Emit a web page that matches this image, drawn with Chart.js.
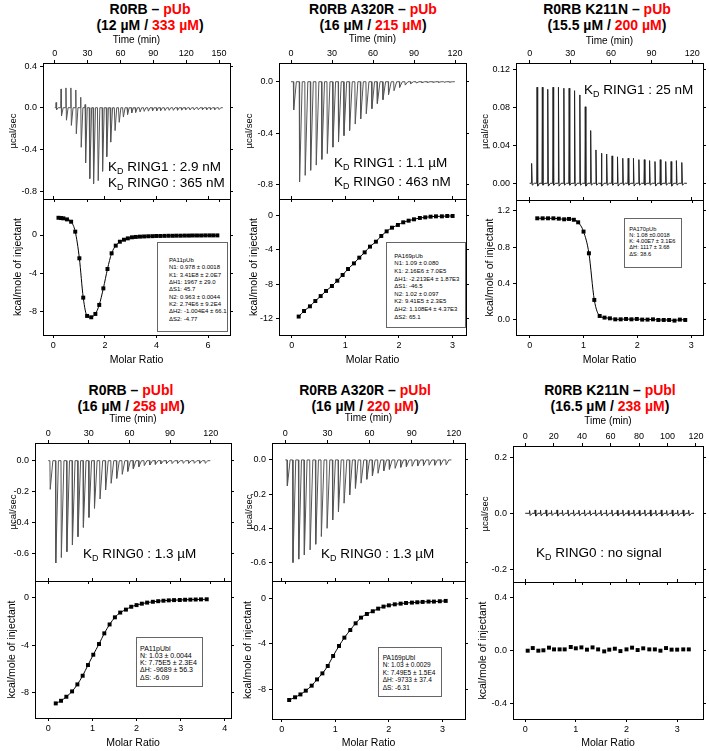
<!DOCTYPE html>
<html>
<head>
<meta charset="utf-8">
<script src="https://cdn.jsdelivr.net/npm/chart.js@4.4.1/dist/chart.umd.min.js"></script>
<style>
  html, body { margin: 0; padding: 0; background: #fff; }
  body { width: 709px; height: 751px; position: relative; overflow: hidden; font-family: "Liberation Sans", Arial, sans-serif; color: #000; }
  canvas { position: absolute; }
  .title { position: absolute; width: 236px; text-align: center; font-weight: bold; font-size: 14px; line-height: 16px; white-space: nowrap; }
  .red { color: #ff0000; }
  .kd { position: absolute; font-size: 13.5px; line-height: 16px; white-space: nowrap; }
  .kd sub { font-size: 9px; vertical-align: -3px; line-height: 0; }
  .fit { position: absolute; box-sizing: border-box; border: 1px solid #666; background: #fff; white-space: pre; }
</style>
</head>
<body>

<div class="title" style="left:32px;top:1px">R0RB – <span class="red">pUb</span><br>(12 µM / <span class="red">333 µM</span>)</div>
<div class="title" style="left:255px;top:1px">R0RB A320R – <span class="red">pUb</span><br>(16 µM / <span class="red">215 µM</span>)</div>
<div class="title" style="left:489px;top:1px">R0RB K211N – <span class="red">pUb</span><br>(15.5 µM / <span class="red">200 µM</span>)</div>
<div class="title" style="left:13px;top:382px">R0RB – <span class="red">pUbl</span><br>(16 µM / <span class="red">258 µM</span>)</div>
<div class="title" style="left:247px;top:382px">R0RB A320R – <span class="red">pUbl</span><br>(16 µM / <span class="red">220 µM</span>)</div>
<div class="title" style="left:492px;top:382px">R0RB K211N – <span class="red">pUbl</span><br>(16.5 µM / <span class="red">238 µM</span>)</div>

<div id="plots"></div>

<div class="kd" style="left:108px;top:158.7px">K<sub>D</sub> RING1 : 2.9 nM</div>
<div class="kd" style="left:108px;top:175.3px">K<sub>D</sub> RING0 : 365 nM</div>
<div class="kd" style="left:334px;top:155.3px">K<sub>D</sub> RING1 : 1.1 µM</div>
<div class="kd" style="left:334px;top:173.7px">K<sub>D</sub> RING0 : 463 nM</div>
<div class="kd" style="left:584px;top:82px">K<sub>D</sub> RING1 : 25 nM</div>
<div class="kd" style="left:83px;top:546px">K<sub>D</sub> RING0 : 1.3 µM</div>
<div class="kd" style="left:321px;top:546px">K<sub>D</sub> RING0 : 1.3 µM</div>
<div class="kd" style="left:536px;top:544.7px">K<sub>D</sub> RING0 : no signal</div>

<div class="fit" style="left:157px;top:242px;width:71px;height:90px;padding:14px 0 0 11px;font-size:6px;line-height:7.33px">PA11pUb
N1: 0.978 ± 0.0018
K1: 3.41E8 ± 2.0E7
ΔH1: 1967 ± 29.0
ΔS1: 45.7
N2: 0.963 ± 0.0044
K2: 2.74E6 ± 9.2E4
ΔH2: -1.004E4 ± 66.1
ΔS2: -4.77</div>
<div class="fit" style="left:386px;top:242px;width:80px;height:86px;padding:9.9px 0 0 7.3px;font-size:6px;line-height:7.58px">PA169pUb
N1: 1.09 ± 0.080
K1: 2.16E6 ± 7.0E5
ΔH1: -2.213E4 ± 1.87E3
ΔS1: -46.5
N2: 1.02 ± 0.097
K2: 9.41E5 ± 2.3E5
ΔH2: 1.108E4 ± 4.37E3
ΔS2: 65.1</div>
<div class="fit" style="left:624px;top:218px;width:58px;height:50px;padding:6.5px 0 0 4.3px;font-size:5.7px;line-height:6.33px">PA170pUb
N: 1.08 ±0.0018
K: 4.00E7 ± 3.1E6
ΔH: 1117 ± 3.68
ΔS: 38.6</div>
<div class="fit" style="left:136px;top:637px;width:67px;height:50px;padding:6.7px 0 0 3px;font-size:7px;line-height:7.25px">PA11pUbl
N: 1.03 ± 0.0044
K: 7.75E5 ± 2.3E4
ΔH: -9689 ± 56.3
ΔS: -6.09</div>
<div class="fit" style="left:378px;top:647px;width:64px;height:50px;padding:5.5px 0 0 3.7px;font-size:6.5px;line-height:7.6px">PA169pUbl
N: 1.03 ± 0.0029
K: 7.49E5 ± 1.5E4
ΔH: -9733 ± 37.4
ΔS: -6.31</div>

<script>
// tick labels
const time150Ticks = ["0", "30", "60", "90", "120", "150"];
const time120Ticks = ["0", "30", "60", "90", "120"];
const time120by20Ticks = ["0", "20", "40", "60", "80", "100", "120"];
const ratio6Ticks = ["0", "2", "4", "6"];
const ratio3Ticks = ["0", "1", "2", "3"];
const ratio4Ticks = ["0", "1", "2", "3", "4"];

// R0RB - pUb
const p1Time = [1, 5.5, 10, 14.5, 19, 23.5, 27.5, 31.5, 35, 39, 43, 46.8, 50.6, 54.4, 58.2, 62, 65.8, 69.6, 73.4, 77.2, 81, 84.8, 88.6, 92.4, 96.2, 100, 103.8, 107.6, 111.4, 115.2, 119, 122.8, 126.6, 130.4, 134.2, 138, 141.8, 145.6, 149.4];
const p1Up = [0.05, 0.18, 0.19, 0.19, 0.17, 0.10, 0.03, 0, 0, 0, 0, 0, 0, 0, 0, 0, 0, 0, 0, 0, 0, 0, 0, 0, 0, 0, 0, 0, 0, 0, 0, 0, 0, 0, 0, 0, 0, 0, 0];
const p1Down = [-0.02, -0.08, -0.12, -0.17, -0.25, -0.38, -0.53, -0.68, -0.73, -0.70, -0.61, -0.47, -0.33, -0.22, -0.14, -0.09, -0.065, -0.05, -0.045, -0.04, -0.035, -0.033, -0.03, -0.03, -0.028, -0.027, -0.025, -0.025, -0.024, -0.023, -0.022, -0.022, -0.021, -0.02, -0.02, -0.02, -0.019, -0.019, -0.018];
const p1Ratio = [0.2, 0.3, 0.39, 0.53, 0.69, 0.85, 1.01, 1.16, 1.31, 1.47, 1.63, 1.78, 1.94, 2.1, 2.26, 2.42, 2.58, 2.74, 2.89, 3.05, 3.2, 3.36, 3.52, 3.68, 3.84, 3.99, 4.15, 4.31, 4.47, 4.63, 4.78, 4.94, 5.1, 5.26, 5.41, 5.57, 5.73, 5.89, 6.05, 6.2, 6.36];
const p1Heat = [1.8, 1.77, 1.74, 1.63, 1.39, 0.35, -2.43, -6.54, -8.45, -8.59, -8.24, -7.3, -5.57, -3.55, -1.91, -1.11, -0.7, -0.49, -0.35, -0.24, -0.2, -0.17, -0.15, -0.13, -0.12, -0.1, -0.1, -0.09, -0.08, -0.08, -0.07, -0.07, -0.06, -0.06, -0.05, -0.05, -0.05, -0.04, -0.04, -0.04, -0.04];
const p1RawTicks = ["0.4", "0.0", "-0.4", "-0.8"];
const p1HeatTicks = ["0", "-4", "-8"];

// R0RB A320R - pUb
const p2Time = [1.7, 6.0, 10.1, 14.1, 18.2, 22.3, 26.3, 30.4, 34.5, 38.5, 42.6, 46.7, 50.7, 54.8, 58.9, 62.9, 67.0, 71.1, 75.1, 79.2, 83.3, 87.3, 91.4, 95.5, 99.5, 103.6, 107.7, 111.7, 115.8];
const p2Peak = [-0.22, -0.78, -0.73, -0.69, -0.65, -0.605, -0.56, -0.51, -0.47, -0.42, -0.38, -0.33, -0.29, -0.25, -0.21, -0.17, -0.14, -0.10, -0.07, -0.044, -0.026, -0.015, -0.01, -0.008, -0.006, -0.005, -0.005, -0.004, -0.004];
const p2Ratio = [0.13, 0.23, 0.34, 0.44, 0.54, 0.64, 0.75, 0.85, 0.95, 1.05, 1.16, 1.26, 1.36, 1.46, 1.57, 1.67, 1.77, 1.87, 1.98, 2.08, 2.18, 2.28, 2.39, 2.49, 2.59, 2.69, 2.8, 2.9, 3.0];
const p2Heat = [-11.8, -11.15, -10.6, -9.98, -9.4, -8.8, -8.22, -7.6, -6.93, -6.23, -5.57, -4.9, -4.28, -3.61, -3.03, -2.36, -1.82, -1.39, -1.07, -0.76, -0.57, -0.41, -0.25, -0.18, -0.1, -0.06, -0.06, -0.02, -0.02];
const p2RawTicks = ["0.0", "-0.4", "-0.8"];
const p2HeatTicks = ["0", "-4", "-8", "-12"];

// R0RB K211N - pUb
const p3Time = [1.2, 5.2, 9.1, 13.1, 17.0, 21.0, 25.0, 28.9, 32.9, 36.8, 40.8, 44.8, 48.7, 52.7, 56.6, 60.6, 64.6, 68.5, 72.5, 76.4, 80.4, 84.4, 88.3, 92.3, 96.2, 100.2, 104.2, 108.1, 112.1];
const p3Peak = [0.021, 0.1017, 0.1017, 0.0995, 0.1017, 0.1017, 0.1006, 0.1006, 0.098, 0.0935, 0.081, 0.0558, 0.0353, 0.0318, 0.031, 0.029, 0.028, 0.0265, 0.0265, 0.0265, 0.025, 0.025, 0.024, 0.023, 0.025, 0.023, 0.023, 0.024, 0.022];
const p3Dip = [-0.002, -0.003, -0.002, -0.003, -0.002, -0.003, -0.002, -0.002, -0.003, -0.002, -0.003, -0.002, -0.002, -0.003, -0.002, -0.002, -0.003, -0.002, -0.002, -0.003, -0.002, -0.002, -0.002, -0.003, -0.002, -0.002, -0.003, -0.002, -0.002];
const p3Ratio = [0.14, 0.24, 0.34, 0.44, 0.54, 0.64, 0.73, 0.82, 0.9, 1.0, 1.1, 1.2, 1.3, 1.39, 1.49, 1.59, 1.69, 1.79, 1.89, 1.99, 2.09, 2.19, 2.29, 2.39, 2.49, 2.59, 2.69, 2.79, 2.89];
const p3Heat = [1.116, 1.116, 1.116, 1.116, 1.112, 1.105, 1.109, 1.10, 1.072, 0.97, 0.732, 0.22, 0.044, 0.026, 0.018, 0.007, 0.007, 0.011, 0.007, 0.011, 0.004, 0.004, 0.007, 0.0, 0.0, 0.0, -0.007, 0.004, 0.0];
const p3RawTicks = ["0.12", "0.08", "0.04", "0.00"];
const p3HeatTicks = ["1.2", "0.8", "0.4", "0.0"];

// R0RB - pUbl
const p4Time = [1.2, 5.3, 9.4, 13.5, 17.6, 21.7, 25.7, 29.8, 33.9, 38.0, 42.1, 46.2, 50.3, 54.4, 58.5, 62.6, 66.7, 70.7, 74.8, 78.9, 83.0, 87.1, 91.2, 95.3, 99.4, 103.5, 107.6, 111.7, 115.7];
const p4Peak = [-0.185, -0.66, -0.625, -0.587, -0.544, -0.49, -0.43, -0.366, -0.307, -0.247, -0.189, -0.146, -0.114, -0.088, -0.069, -0.052, -0.039, -0.032, -0.028, -0.024, -0.0215, -0.019, -0.019, -0.017, -0.017, -0.017, -0.017, -0.017, -0.017];
const p4Ratio = [0.17, 0.29, 0.41, 0.54, 0.66, 0.78, 0.9, 1.02, 1.15, 1.27, 1.39, 1.51, 1.63, 1.76, 1.88, 2.0, 2.12, 2.24, 2.37, 2.49, 2.61, 2.73, 2.85, 2.98, 3.1, 3.22, 3.34, 3.46, 3.59];
const p4Heat = [-8.9, -8.68, -8.34, -7.89, -7.3, -6.57, -5.67, -4.8, -3.9, -3.0, -2.25, -1.65, -1.25, -1.0, -0.76, -0.62, -0.5, -0.41, -0.34, -0.29, -0.25, -0.22, -0.2, -0.19, -0.17, -0.16, -0.15, -0.14, -0.13];
const p4RawTicks = ["0.0", "-0.2", "-0.4", "-0.6"];
const p4HeatTicks = ["0", "-4", "-8"];

// R0RB A320R - pUbl
const p5Time = [1.2, 5.2, 9.3, 13.3, 17.4, 21.4, 25.4, 29.5, 33.5, 37.6, 41.6, 45.6, 49.7, 53.7, 57.8, 61.8, 65.8, 69.9, 73.9, 78.0, 82.0, 86.0, 90.1, 94.1, 98.2, 102.2, 106.2, 110.3, 114.3];
const p5Peak = [-0.152, -0.6, -0.58, -0.555, -0.526, -0.493, -0.448, -0.4, -0.351, -0.302, -0.253, -0.205, -0.166, -0.136, -0.113, -0.094, -0.078, -0.064, -0.055, -0.049, -0.043, -0.039, -0.037, -0.035, -0.033, -0.031, -0.031, -0.031, -0.029];
const p5Ratio = [0.14, 0.25, 0.35, 0.45, 0.56, 0.66, 0.76, 0.86, 0.96, 1.07, 1.17, 1.28, 1.38, 1.48, 1.59, 1.7, 1.8, 1.9, 2.0, 2.11, 2.22, 2.32, 2.43, 2.53, 2.63, 2.74, 2.84, 2.95, 3.06];
const p5Heat = [-8.94, -8.7, -8.45, -8.12, -7.68, -7.13, -6.6, -5.95, -5.07, -4.19, -3.46, -2.79, -2.2, -1.7, -1.38, -1.14, -0.91, -0.73, -0.62, -0.53, -0.47, -0.41, -0.38, -0.35, -0.32, -0.29, -0.29, -0.26, -0.23];
const p5RawTicks = ["0.0", "-0.2", "-0.4", "-0.6"];
const p5HeatTicks = ["0", "-4", "-8"];

// R0RB K211N - pUbl
const p6Time = [2.8, 6.7, 10.5, 14.4, 18.2, 22.1, 25.9, 29.8, 33.7, 37.5, 41.4, 45.2, 49.1, 52.9, 56.8, 60.7, 64.5, 68.4, 72.2, 76.1, 79.9, 83.8, 87.7, 91.5, 95.4, 99.2, 103.1, 106.9, 110.8, 114.7];
const p6Up = [0.01, 0.012, 0.011, 0.012, 0.01, 0.012, 0.011, 0.012, 0.012, 0.011, 0.012, 0.01, 0.012, 0.011, 0.012, 0.012, 0.011, 0.012, 0.01, 0.012, 0.011, 0.012, 0.012, 0.011, 0.012, 0.01, 0.012, 0.011, 0.012, 0.011];
const p6Down = [-0.008, -0.01, -0.009, -0.01, -0.008, -0.01, -0.009, -0.01, -0.01, -0.009, -0.01, -0.008, -0.01, -0.009, -0.01, -0.01, -0.009, -0.01, -0.008, -0.01, -0.009, -0.01, -0.01, -0.009, -0.01, -0.008, -0.01, -0.009, -0.01, -0.009];
const p6Ratio = [0.05, 0.15, 0.26, 0.36, 0.47, 0.57, 0.68, 0.78, 0.9, 1.0, 1.11, 1.22, 1.33, 1.44, 1.56, 1.66, 1.77, 1.88, 2.0, 2.11, 2.22, 2.33, 2.45, 2.56, 2.67, 2.78, 2.89, 3.0, 3.12, 3.23];
const p6Heat = [0.0, 0.02, 0.0, 0.003, 0.023, 0.01, 0.01, 0.01, 0.028, 0.018, 0.025, 0.008, 0.025, 0.01, -0.005, 0.008, 0.015, -0.003, 0.01, 0.023, 0.005, 0.018, 0.01, 0.01, 0.0, 0.02, 0.008, 0.008, 0.01, 0.01];
const p6RawTicks = ["0.2", "0.0", "-0.2"];
const p6HeatTicks = ["0.4", "0.0", "-0.4"];

Chart.defaults.font.family = "'Liberation Sans', Arial, sans-serif";
Chart.defaults.color = "#000";

// injection spikes: baseline, first excursion, optional second excursion, back to baseline
function thermogram(times, first, second) {
    const pts = [{ x: 0, y: 0 }];
    times.forEach(function (t, i) {
        pts.push({ x: t, y: 0 });
        pts.push({ x: t + 0.25, y: first[i] });
        if (second) pts.push({ x: t + 0.7, y: second[i] });
        pts.push({ x: t + 2.2, y: 0 });
    });
    pts.push({ x: times[times.length - 1] + 4, y: 0 });
    return pts;
}

function xy(xs, ys) {
    return xs.map(function (x, i) { return { x: x, y: ys[i] }; });
}

function axis(position, range, labels, size, extra) {
    const ex = extra || {};
    const pairs = labels.map(function (l) { return { value: Number(l), label: l }; })
        .sort(function (a, b) { return a.value - b.value; });
    const horizontal = position === "top" || position === "bottom";
    return {
        type: "linear",
        axis: horizontal ? "x" : "y",
        position: position,
        min: range[0],
        max: range[1],
        afterBuildTicks: function (s) {
            s.ticks = pairs.map(function (p) { return { value: p.value }; });
        },
        afterFit: function (s) {
            if (horizontal) s.height = size; else s.width = size;
            s.paddingLeft = s.paddingRight = s.paddingTop = s.paddingBottom = 0;
        },
        grid: { drawOnChartArea: false, drawTicks: true, tickLength: 3, color: "#000", lineWidth: 1 },
        border: { display: true, color: "#000", width: 1 },
        ticks: {
            display: !!ex.labels,
            autoSkip: false,
            maxRotation: 0,
            minRotation: 0,
            padding: ex.pad !== undefined ? ex.pad : 2,
            color: "#000",
            font: { size: 9 },
            callback: function (v, i) { return pairs[i] ? pairs[i].label : ""; },
        },
        title: ex.title
            ? { display: true, text: ex.title, color: "#000", font: { size: ex.titleSize }, padding: ex.titlePad }
            : { display: false },
    };
}

function plot(area, margin, scales, datasets) {
    const left = area[0] - margin[0];
    const top = area[1] - margin[1];
    const w = area[2] + margin[2] - left;
    const h = area[3] + margin[3] - top;
    const cv = document.createElement("canvas");
    cv.width = w;
    cv.height = h;
    cv.style.left = left + "px";
    cv.style.top = top + "px";
    cv.style.width = w + "px";
    cv.style.height = h + "px";
    document.getElementById("plots").appendChild(cv);
    return new Chart(cv, {
        type: "scatter",
        data: { datasets: datasets },
        options: {
            responsive: false,
            animation: false,
            devicePixelRatio: 1,
            layout: { padding: 0 },
            plugins: { legend: { display: false }, tooltip: { enabled: false } },
            scales: scales,
        },
    });
}

function panel(p) {
    // raw thermogram
    plot(p.top, [p.wL, p.hT, 4, 4], {
        xT: axis("top", p.time, p.timeTicks, p.hT, {
            labels: true, pad: 1, title: "Time (min)", titleSize: 10, titlePad: { top: p.timePad, bottom: 0 },
        }),
        xM: axis("bottom", p.time, p.timeTicks, 4),
        y: axis("left", p.rawRange, p.rawTicks, p.wL, {
            labels: true, pad: 3, title: "µcal/sec", titleSize: 9.5, titlePad: { top: 7.3, bottom: 0 },
        }),
        yR: axis("right", p.rawRange, p.rawTicks, 4),
    }, [{
        data: p.raw, xAxisID: "xT", yAxisID: "y", showLine: true,
        pointRadius: 0, borderWidth: 1, borderColor: p.rawColor,
    }]);

    // integrated heats
    plot(p.bottom, [p.wL, 4, 4, p.hB], {
        xM: axis("top", p.ratioRange, p.ratioTicks, 4),
        xB: axis("bottom", p.ratioRange, p.ratioTicks, p.hB, {
            labels: true, pad: 2, title: "Molar Ratio", titleSize: 10.5, titlePad: { top: 0, bottom: p.ratioPad },
        }),
        y: axis("left", p.heatRange, p.heatTicks, p.wL, {
            labels: true, pad: 3, title: "kcal/mole of injectant", titleSize: 10.5, titlePad: { top: p.kcalPad, bottom: 0 },
        }),
        yR: axis("right", p.heatRange, p.heatTicks, 4),
    }, [{
        data: p.heat, xAxisID: "xB", yAxisID: "y", showLine: p.fit,
        cubicInterpolationMode: "monotone",
        borderColor: "#000", borderWidth: 1,
        pointStyle: "rect", pointRadius: 2.8, pointBackgroundColor: "#000", pointBorderWidth: 0,
    }]);
}

panel({
    top: [43, 63, 230, 199], bottom: [43, 199, 230, 335], wL: 43, hT: 33, hB: 35,
    time: [-10.7, 160], timeTicks: time150Ticks, timePad: 4,
    rawRange: [-0.876, 0.429], rawTicks: p1RawTicks, rawColor: "#555",
    raw: thermogram(p1Time, p1Up, p1Down),
    ratioRange: [-0.4, 6.85], ratioTicks: ratio6Ticks, ratioPad: 3.7,
    heatRange: [-10.44, 3.76], heatTicks: p1HeatTicks, kcalPad: 11.7,
    heat: xy(p1Ratio, p1Heat), fit: true,
});
panel({
    top: [279, 63, 466, 199], bottom: [279, 199, 466, 335], wL: 43, hT: 33, hB: 35,
    time: [-8.8, 128], timeTicks: time120Ticks, timePad: 3.3,
    rawRange: [-0.914, 0.146], rawTicks: p2RawTicks, rawColor: "#555",
    raw: thermogram(p2Time, p2Peak),
    ratioRange: [-0.237, 3.25], ratioTicks: ratio3Ticks, ratioPad: 3.7,
    heatRange: [-13.96, 1.97], heatTicks: p2HeatTicks, kcalPad: 11.4,
    heat: xy(p2Ratio, p2Heat), fit: true,
});
panel({
    top: [516, 63, 703, 200], bottom: [516, 200, 703, 335], wL: 44, hT: 33, hB: 35,
    time: [-10.1, 128], timeTicks: time120Ticks, timePad: 5.7,
    rawRange: [-0.0177, 0.1273], rawTicks: p3RawTicks, rawColor: "#222",
    raw: thermogram(p3Time, p3Peak, p3Dip),
    ratioRange: [-0.255, 3.22], ratioTicks: ratio3Ticks, ratioPad: 3.7,
    heatRange: [-0.165, 1.317], heatTicks: p3HeatTicks, kcalPad: 11.7,
    heat: xy(p3Ratio, p3Heat), fit: true,
});
panel({
    top: [35, 443, 231, 581], bottom: [35, 581, 231, 718], wL: 35, hT: 33, hB: 33,
    time: [-9.8, 135], timeTicks: time120Ticks, timePad: 3.3,
    rawRange: [-0.776, 0.114], rawTicks: p4RawTicks, rawColor: "#555",
    raw: thermogram(p4Time, p4Peak),
    ratioRange: [-0.3, 4.14], ratioTicks: ratio4Ticks, ratioPad: 1.4,
    heatRange: [-10.13, 1.41], heatTicks: p4HeatTicks, kcalPad: 5.4,
    heat: xy(p4Ratio, p4Heat), fit: true,
});
panel({
    top: [272, 443, 465, 581], bottom: [272, 581, 465, 719], wL: 36, hT: 33, hB: 32,
    time: [-9.5, 128], timeTicks: time120Ticks, timePad: 2.3,
    rawRange: [-0.708, 0.099], rawTicks: p5RawTicks, rawColor: "#555",
    raw: thermogram(p5Time, p5Peak),
    ratioRange: [-0.18, 3.42], ratioTicks: ratio3Ticks, ratioPad: 2,
    heatRange: [-10.61, 1.52], heatTicks: p5HeatTicks, kcalPad: 5.4,
    heat: xy(p5Ratio, p5Heat), fit: true,
});
panel({
    top: [513, 446, 703, 582], bottom: [513, 582, 703, 719], wL: 41, hT: 36, hB: 32,
    time: [-8.6, 125], timeTicks: time120by20Ticks, timePad: 5.7,
    rawRange: [-0.246, 0.241], rawTicks: p6RawTicks, rawColor: "#222",
    raw: thermogram(p6Time, p6Up, p6Down),
    ratioRange: [-0.24, 3.51], ratioTicks: ratio3Ticks, ratioPad: 1.4,
    heatRange: [-0.517, 0.52], heatTicks: p6HeatTicks, kcalPad: 4.4,
    heat: xy(p6Ratio, p6Heat), fit: false,
});
</script>
</body>
</html>
